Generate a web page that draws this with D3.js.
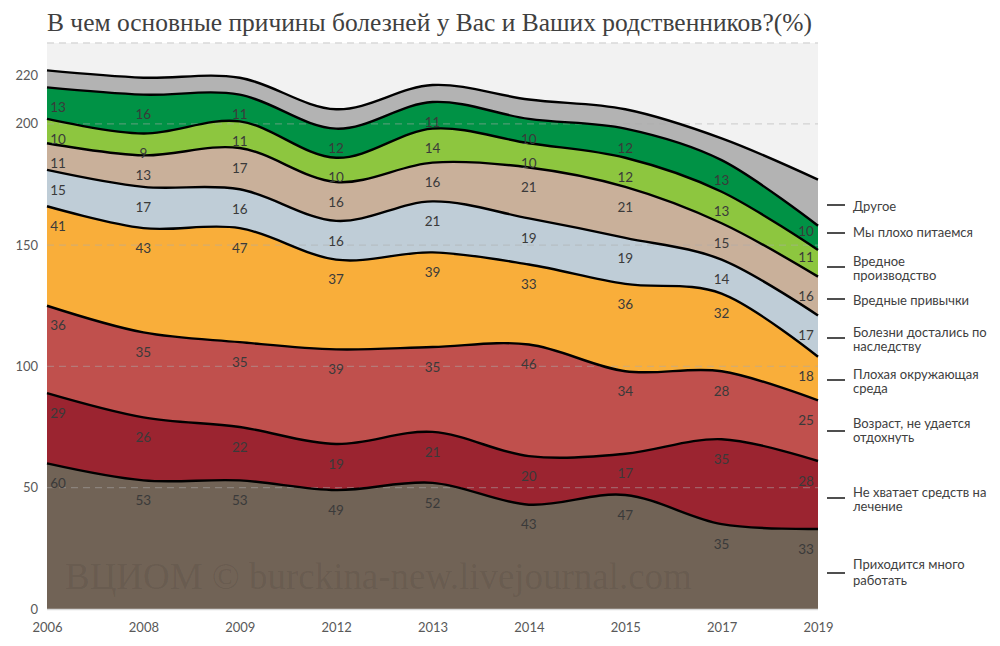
<!DOCTYPE html>
<html><head><meta charset="utf-8">
<script src="https://cdn.jsdelivr.net/npm/d3@7"></script>
<style>
body{margin:0;background:#fff;}
svg text{font-family:Lato,'Open Sans',sans-serif;}
</style>
</head><body>
<svg id="c" width="1000" height="646"></svg>
<script>
// ---- data ----
const years = ["2006","2008","2009","2012","2013","2014","2015","2017","2019"];
const seriesKeys = ["work","money","age","environment","heredity","habits","production","food","other"];
const seriesNames = ["Приходится много работать","Не хватает средств на лечение","Возраст, не удается отдохнуть","Плохая окружающая среда","Болезни достались по наследству","Вредные привычки","Вредное производство","Мы плохо питаемся","Другое"];
const work        = [60,53,53,49,52,43,47,35,33];
const money       = [29,26,22,19,21,20,17,35,28];
const age         = [36,35,35,39,35,46,34,28,25];
const environment = [41,43,47,37,39,33,36,32,18];
const heredity    = [15,17,16,16,21,19,19,14,17];
const habits      = [11,13,17,16,16,21,21,15,16];
const production  = [10,9,11,10,14,10,12,13,11];
const food        = [13,16,11,12,11,10,12,13,10];
const other       = [7,7,7,8,7,8,8,9,19];
const yTicks = [0,50,100,150,200,220];
const gridValues = [50,100,150,200];
const legendLines = [["Другое"],["Мы плохо питаемся"],["Вредное","производство"],["Вредные привычки"],["Болезни достались по","наследству"],["Плохая окружающая","среда"],["Возраст, не удается","отдохнуть"],["Не хватает средств на","лечение"],["Приходится много","работать"]];
const title = "В чем основные причины болезней у Вас и Ваших родственников?(%)";
const watermark = "ВЦИОМ © burckina-new.livejournal.com";

// ---- styles / layout ----
const colors = {work:"#716356",money:"#9B2430",age:"#C0504D",environment:"#F9AE3A",heredity:"#BFCDD7",habits:"#C9B09A",production:"#8DC63F",food:"#009245",other:"#B3B3B3"};
const labeled = {work:true,money:true,age:true,environment:true,heredity:true,habits:true,production:true,food:true,other:false};
const L=47, R=818, T=43, B=609;
const legendTickY = [205,233,267,299,338,380,431,498,573];
const legendTextY = [206,232,261,300,332,374,423,492,564];

const valuesByKey = {work,money,age,environment,heredity,habits,production,food,other};
const table = years.map((yr,i)=>{const o={year:yr}; seriesKeys.forEach(k=>o[k]=valuesByKey[k][i]); return o;});
const stacked = d3.stack().keys(seriesKeys)(table);

const svg = d3.select("#c");
const x = d3.scalePoint().domain(years).range([L,R]);
const y = d3.scaleLinear().domain([0,233.3]).range([B,T]);
const curve = d3.curveCardinal.tension(0);

// title
const tt = svg.append("text").attr("x",L).attr("y",31).text(title)
  .style("font-family","'Liberation Serif','DejaVu Serif',serif").style("font-size","22px").attr("fill","#404040");
let w = tt.node().getComputedTextLength();
tt.style("font-size",(22*765/w)+"px");

// plot bg
svg.append("rect").attr("x",L).attr("y",T).attr("width",R-L).attr("height",B-T).attr("fill","#F2F2F2");

// areas
const area = d3.area().x(d=>x(d.data.year)).y0(d=>y(d[0])).y1(d=>y(d[1])).curve(curve);
svg.append("g").selectAll("path").data(stacked).join("path")
  .attr("d",area).attr("fill",d=>colors[d.key]);

// watermark
const wm = svg.append("text").attr("x",65).attr("y",589).text(watermark)
  .style("font-family","'Liberation Serif','DejaVu Serif',serif").style("font-size","30px").attr("fill","rgba(0,0,0,0.08)");
let ww = wm.node().getComputedTextLength();
wm.style("font-size",(30*627/ww)+"px");

// gridlines
svg.append("g").selectAll("line").data(gridValues).join("line")
  .attr("x1",L).attr("x2",R).attr("y1",d=>y(d)).attr("y2",d=>y(d))
  .attr("stroke","rgba(170,170,170,0.45)").attr("stroke-width",1.3).attr("stroke-dasharray","7,5");
svg.append("line").attr("x1",L).attr("x2",R).attr("y1",T).attr("y2",T)
  .attr("stroke","#D9D9D9").attr("stroke-width",1.3).attr("stroke-dasharray","7,5");
svg.append("line").attr("x1",L).attr("x2",R).attr("y1",B+0.5).attr("y2",B+0.5)
  .attr("stroke","#D9D9D9").attr("stroke-width",1.5);

// lines
const line = d3.line().x(d=>x(d.data.year)).y(d=>y(d[1])).curve(curve);
svg.append("g").selectAll("path").data(stacked).join("path")
  .attr("d",line).attr("fill","none").attr("stroke","#000").attr("stroke-width",2.4);

// data labels (below each point; last-point labels kept inside their band)
const lg = svg.append("g");
const last = years.length-1;
stacked.forEach(s=>{
  if(!labeled[s.key]) return;
  s.forEach((d,i)=>{
    const cx = Math.max(L+11, Math.min(R-12, x(d.data.year)));
    let cy = y(d[1])+20;
    if(i===last) cy = Math.min(cy, y(d[0])-19);
    lg.append("text").attr("x",cx).attr("y",cy).attr("dy","0.35em")
      .attr("text-anchor","middle").attr("fill","#3A3A3A").style("font-size","13.5px")
      .text(d.data[s.key]);
  });
});

// y axis
const ya = svg.append("g").attr("transform",`translate(${L},0)`)
  .call(d3.axisLeft(y).tickValues(yTicks).tickSize(0).tickPadding(9));
ya.select(".domain").remove();
ya.selectAll("text").style("font-size","13px").attr("fill","#595959").style("font-family","Lato,sans-serif");

// x axis
const xa = svg.append("g").attr("transform",`translate(0,${B})`)
  .call(d3.axisBottom(x).tickSize(0).tickPadding(14));
xa.select(".domain").remove();
xa.selectAll("text").style("font-size","13px").attr("fill","#595959").style("font-family","Lato,sans-serif");

// legend
const legendOrder = seriesNames.slice().reverse();
legendOrder.forEach((name,i)=>{
  svg.append("line").attr("x1",827).attr("x2",845).attr("y1",legendTickY[i]).attr("y2",legendTickY[i])
    .attr("stroke","#222").attr("stroke-width",1.6);
  const lines = legendLines[i];
  lines.forEach((ln,j)=>{
    svg.append("text").attr("x",853).attr("y",legendTextY[i]+j*(i===8?16:14)).attr("dy","0.35em")
      .attr("fill","#404040").style("font-size","13px").text(ln);
  });
});
</script>
</body></html>
